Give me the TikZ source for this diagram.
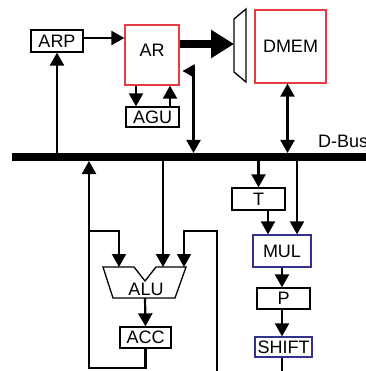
\documentclass[tikz,border=0pt]{standalone}
\usepackage{fontspec}
\setmainfont{Liberation Sans}
\usetikzlibrary{arrows.meta}
\definecolor{memred}{RGB}{228,60,66}
\definecolor{unitblue}{RGB}{50,50,140}
\tikzset{
  box/.style={draw=black, line width=1.3pt, inner sep=0pt, font=\fontsize{18}{20}\selectfont},
  redbox/.style={box, draw=memred},
  bluebox/.style={box, draw=unitblue},
  lbl/.style={inner sep=0pt, font=\fontsize{18}{20}\selectfont},
  conn/.style={line width=2.2pt},
  arr/.style={conn, -{Triangle[length=13pt,width=14pt]}},
  darr/.style={conn, {Triangle[length=13pt,width=14pt]}-{Triangle[length=13pt,width=14pt]}},
  shapeline/.style={line width=1.3pt, line join=miter}
}
\begin{document}
\begin{tikzpicture}[x=1pt,y=-1pt]
\useasboundingbox (0,0) rectangle (365,371);
% boxes
\node[box, minimum width=52pt, minimum height=22pt] (ARP) at (57,41) {ARP};
\node[redbox, minimum width=54pt, minimum height=60pt] (AR) at (152,55) {};
\node[lbl] (ARt) at (152,50) {AR};
\node[box, minimum width=53pt, minimum height=20pt] (AGU) at (152.5,117) {AGU};
\node[redbox, minimum width=71pt, minimum height=73pt] (DMEM) at (290.5,46.5) {DMEM};
\node[box, minimum width=53pt, minimum height=22pt] (T) at (258.5,199) {T};
\node[bluebox, minimum width=58pt, minimum height=32pt] (MUL) at (282,251) {MUL};
\node[box, minimum width=53pt, minimum height=21pt] (P) at (283.5,298.5) {P};
\node[bluebox, minimum width=57pt, minimum height=20pt] (SHIFT) at (283.5,347) {SHIFT};
\node[box, minimum width=51pt, minimum height=21pt] (ACC) at (145.5,337.5) {ACC};
% mux trapezoid
\draw[shapeline] (234,19) -- (246,9) -- (246,82) -- (234,72) -- cycle;
\coordinate (muxin) at (234,44);
% ALU shape
\draw[shapeline] (103,267) -- (134,267) -- (145,281) -- (156,267) -- (186,267) -- (175,298) -- (113,298) -- cycle;
\node[lbl] (ALU) at (146,289) {ALU};
\coordinate (aluL) at (119,267);
\coordinate (aluM) at (163,267);
\coordinate (aluR) at (184,267);
\coordinate (aluOut) at (145,298);
% bus
\coordinate (busL) at (12,157);
\coordinate (busR) at (370,157);
\coordinate (busT) at (0,153);
\coordinate (busB) at (0,161);
\draw[line width=8pt] (busL) -- (busR);
\node[lbl, anchor=base west] (dbus) at (318,147.5) {D-Bus};
% upper connectors
\draw[arr] (ARP.east |- 0,38) -- (AR.west |- 0,38);
\draw[arr] (ARP.south |- busT) -- (ARP.south);
\draw[arr] (AR.south -| 136,0) -- (AGU.north -| 136,0);
\draw[arr] (AGU.north -| 170,0) -- (AR.south -| 170,0);
\coordinate (arbend) at (193.5,66);
\coordinate (arin) at (182.5,71);
\draw[conn, {Triangle[length=13pt,width=14pt]}-] (193.5,0 |- busT) -- (arbend);
\draw[conn, -{Triangle[length=12pt,width=13pt]}] (195,71) -- (arin);
\draw[line width=8pt, -{Triangle[length=23pt,width=27pt]}] (AR.east |- muxin) -- (muxin);
\draw[darr] (DMEM.south -| 287.5,0) -- (287.5,0 |- busT);
% right column
\draw[arr] (T.north |- busB) -- (T.north);
\draw[arr] (T.south -| 268,0) -- (MUL.north -| 268,0);
\draw[arr] (297,0 |- busB) -- (MUL.north -| 297,0);
\draw[arr] (MUL.south -| 282,0) -- (P.north -| 282,0);
\draw[arr] (P.south -| 282,0) -- (SHIFT.north -| 282,0);
\draw[conn] (SHIFT.south -| 282,0) -- (282,375);
% ALU region
\draw[arr] (89,231) -- (119,231) -- (aluL);
\draw[arr] (163,0 |- busB) -- (aluM);
\draw[arr] (217,375) -- (217,231) -- (184,231) -- (aluR);
\draw[arr] (aluOut) -- (ACC.north);
\draw[arr] (ACC.south) -- (145.5,368) -- (89,368) -- (89,0 |- busB);
\end{tikzpicture}
\end{document}
